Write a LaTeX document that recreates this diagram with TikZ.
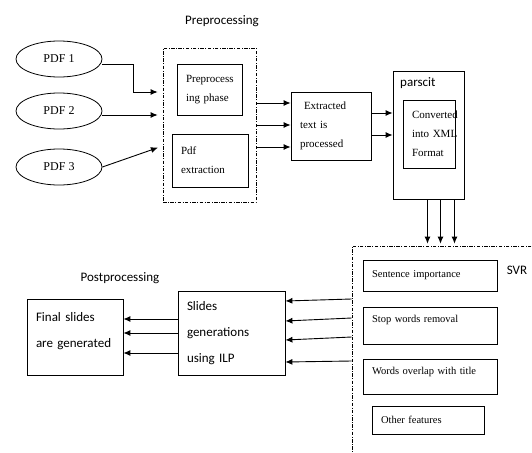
\documentclass[tikz,border=0pt]{standalone}
\usepackage{fontspec}
\setmainfont{Liberation Serif}
\newfontfamily\calfont{Carlito}
\usetikzlibrary{shapes.geometric,arrows.meta}

\tikzset{
  pdfnode/.style={draw, ellipse, line width=0.8pt, minimum width=86pt, minimum height=36pt, inner sep=1pt, font=\fontsize{12}{14}\selectfont},
  procbox/.style={draw, line width=0.8pt, align=left, inner xsep=9pt, font=\fontsize{11}{19}\selectfont},
  featbox/.style={procbox, font=\fontsize{10.5}{13}\selectfont},
  calbox/.style={procbox, font=\calfont\fontsize{13}{26}\selectfont},
  grouping/.style={draw, line width=0.7pt, dash pattern=on 3.5pt off 1.5pt on 0.8pt off 1.5pt},
  caption/.style={font=\calfont\fontsize{13}{15}\selectfont, inner sep=0pt},
  arr/.style={-{Latex[length=7pt,width=6pt]}, line width=0.9pt}
}

\begin{document}
\begin{tikzpicture}[x=1pt,y=-1pt]
    \useasboundingbox (0,0) rectangle (532,452);
    \clip (0,0) rectangle (532,452);

    % Nodes
    \node[pdfnode] (pdf1) at (59,59) {PDF 1};
    \node[pdfnode] (pdf2) at (59,111) {PDF 2};
    \node[pdfnode] (pdf3) at (59,167) {PDF 3};

    \node[caption] (precap) at (222,21) {Preprocessing};
    \node[grouping, minimum width=93pt, minimum height=154pt] (pre) at (209.5,125) {};
    \node[procbox, minimum width=65pt, minimum height=51pt, text width=47pt] (phase) at (209.5,89.5) {Preprocess\\ing phase};
    \node[procbox, minimum width=76pt, minimum height=53pt, text width=58pt] (pdfext) at (210,160.5) {Pdf\\extraction};

    \node[procbox, minimum width=80pt, minimum height=68pt, text width=62pt] (extracted) at (331,126) {\hspace*{4pt}Extracted\\text is\\processed};

    \node[draw, line width=0.8pt, minimum width=71pt, minimum height=128pt] (parscit) at (428.5,135) {};
    \node[caption, anchor=west] (parscitcap) at (400,83) {parscit};
    \node[procbox, minimum width=52pt, minimum height=68pt, text width=34pt] (converted) at (429,134) {\mbox{Converted}\\\mbox{into XML}\\Format};

    \node[grouping, minimum width=193pt, minimum height=224pt] (svr) at (448.5,358) {};
    \node[caption] (svrcap) at (517,270) {SVR};
    \node[featbox, minimum width=134pt, minimum height=31pt, text width=116pt] (sentence) at (430,275.5) {Sentence importance};
    \node[featbox, minimum width=134pt, minimum height=37pt, text width=116pt, text depth=14pt] (stopwords) at (430,325.5) {Stop words removal};
    \node[featbox, minimum width=134pt, minimum height=35pt, text width=116pt, text depth=11pt] (overlap) at (430,376.5) {Words overlap with title};
    \node[featbox, minimum width=112pt, minimum height=28pt, text width=94pt] (other) at (428,420) {Other features};

    \node[caption] (postcap) at (120,278) {Postprocessing};
    \node[calbox, minimum width=107pt, minimum height=84pt, text width=89pt] (slides) at (231.5,333) {Slides\\generations\\using ILP};
    \node[calbox, minimum width=96pt, minimum height=76pt, text width=78pt, text depth=41pt] (final) at (75,337) {Final slides\\are generated};

    % Edges
    \draw[arr, shorten >=5pt] ([yshift=-5pt]pdf1.east) -| ++(31,28) -- ([yshift=33pt]pre.west);
    \draw[arr, shorten >=5pt] ([yshift=-4pt]pdf2.east) -- ([yshift=-4pt]pdf2.east -| pre.west);
    \draw[arr, shorten >=5pt] (pdf3.east) -- ([yshift=-21pt]pre.west);

    \foreach \dy in {23,1,-21}
        \draw[arr] ([yshift=\dy pt]extracted.west -| pre.east) -- ([yshift=\dy pt]extracted.west);
    \foreach \dy in {13,-9}
        \draw[arr] ([yshift=\dy pt]extracted.east) -- ([yshift=\dy pt]extracted.east -| parscit.west);
    \foreach \dx in {-1,12,26}
        \draw[arr, shorten >=2pt] ([xshift=\dx pt]parscit.south) -- ([xshift=\dx pt]parscit.south |- svr.north);

    \foreach \a/\b in {34/32, 15/12, -4/-7, -28/-29}
        \draw[arr] ([yshift=\a pt]slides.east -| svr.west) -- ([yshift=\b pt]slides.east);
    \foreach \dy in {18,4,-16}
        \draw[arr] ([yshift=\dy pt]final.east -| slides.west) -- ([yshift=\dy pt]final.east);
\end{tikzpicture}
\end{document}
